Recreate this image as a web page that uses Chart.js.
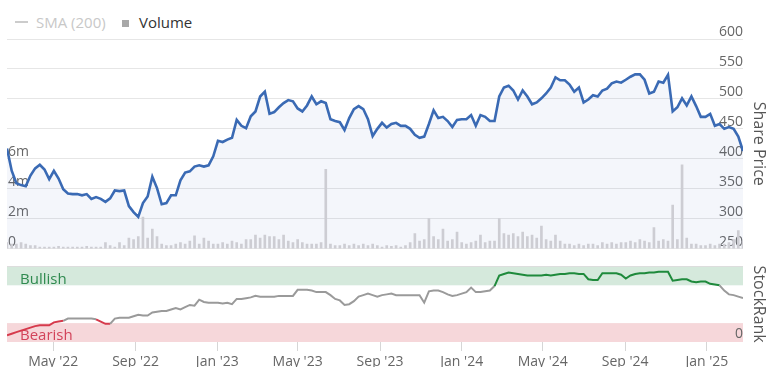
<!DOCTYPE html>
<html><head><meta charset="utf-8">
<script src="https://cdn.jsdelivr.net/npm/chart.js@4.4.1/dist/chart.umd.min.js"></script>
<style>
html,body{margin:0;padding:0;background:#fff;}
#wrap{position:relative;width:773px;height:367px;overflow:hidden;font-family:'Open Sans',sans-serif;}
canvas{position:absolute;left:0;}
#c1{top:0;}
#c2{top:258px;}
.lg{position:absolute;top:12px;font-size:15px;line-height:20px;white-space:nowrap;}
.sym{position:absolute;}
</style></head><body>
<div id="wrap">
  <span class="sym" style="left:15px;top:21px;width:13px;height:2px;background:#cccccc"></span>
  <div class="lg" style="left:36px;color:#c8c8c8">SMA (200)</div>
  <span class="sym" style="left:122px;top:20px;width:7px;height:7px;background:#a8a8a8"></span>
  <div class="lg" style="left:139px;color:#333333">Volume</div>
  <canvas id="c1" width="773" height="258"></canvas>
  <canvas id="c2" width="773" height="109"></canvas>
</div>
<script>
// ---- data (weekly samples, first week starting 2022-02-21) ----
const weekStart = '2022-02-21';
const price = [
 417,380,359,356,354,372,384,390,382,366,
 380,367,349,342,341,341,339,341,333,336,
 333,328,334,347,346,347,321,311,303,326,
 337,370,351,324,326,339,339,364,377,379,
 387,389,387,389,404,430,428,432,435,465,
 455,451,471,479,504,512,475,478,486,493,
 498,496,484,479,489,504,491,496,493,466,
 463,461,448,468,483,488,483,466,438,450,
 460,452,458,460,455,455,450,440,435,437,
 458,481,468,470,463,453,465,466,466,473,
 455,473,470,463,463,504,519,522,514,499,
 514,504,491,494,501,509,519,536,531,531,
 524,512,519,494,499,506,504,514,517,526,
 529,527,532,537,541,541,532,509,512,529,
 527,540,479,486,501,489,504,488,470,470,
 475,455,458,450,453,450,437,413
];
const volumeM = [
 0.4,0.3,0.3,0.4,0.3,0.2,0.2,0.1,0.1,0.1,
 0.1,0.15,0.1,0.1,0.1,0.1,0.1,0.15,0.1,0.1,
 0.1,0.4,0.2,0.1,0.4,0.2,0.7,0.6,0.8,2.1,
 0.7,1.3,0.8,0.3,0.2,0.2,0.3,0.4,0.3,0.5,
 0.85,0.3,0.7,0.5,0.3,0.3,0.4,0.3,0.5,0.4,
 0.3,0.6,0.6,0.9,0.7,0.9,0.8,0.8,0.6,0.9,
 0.5,0.4,0.6,0.4,0.3,0.3,0.3,0.4,5.3,0.3,
 0.2,0.2,0.3,0.2,0.3,0.2,0.3,0.2,0.3,0.2,
 0.1,0.2,0.15,0.2,0.1,0.2,0.4,1.0,0.5,0.6,
 2.0,0.8,0.6,1.3,0.5,0.6,1.1,0.4,0.3,0.4,
 0.5,0.9,0.4,0.5,0.5,2.0,1.0,0.9,1.0,0.8,
 1.1,0.8,0.9,0.7,1.5,0.6,0.5,0.9,0.5,0.3,
 0.3,0.2,0.3,0.2,0.3,0.3,0.2,0.4,0.3,0.4,
 0.3,0.4,0.4,0.5,0.4,0.6,0.5,0.4,1.4,0.5,
 0.6,0.5,2.9,0.6,5.6,0.7,0.3,0.3,0.2,0.2,
 0.3,0.2,0.3,0.3,0.4,0.6,1.2,0.5
];
const stockRank = [
 9,11,13,15,17,19,21,22,22,22,
 26,27,28,31,31,31,31,31,31,30,
 27,24,24,31,32,32,32,34,36,35,
 35,39,40,41,41,43,45,43,46,49,
 48,56,53,52,52,52,51,52,50,57,
 57,58,59,61,60,60,60,60,61,61,
 61,61,69,69,69,68,66,66,66,62,
 57,55,49,50,54,60,62,64,62,60,
 62,63,64,62,62,62,62,62,62,52,
 67,68,68,66,63,61,62,64,66,72,
 66,66,67,68,74,88,90,92,91,90,
 89,88,88,88,88,89,88,89,90,90,
 91,91,90,90,83,82,82,91,91,91,
 91,89,84,88,90,91,91,92,92,93,
 93,93,81,82,83,83,80,79,80,80,
 77,76,75,68,63,62,60,58
];
const xTickDates = ['2022-05-01','2022-09-01','2023-01-01','2023-05-01','2023-09-01','2024-01-01','2024-05-01','2024-09-01','2025-01-01'];
const xTickLabels = ["May '22","Sep '22","Jan '23","May '23","Sep '23","Jan '24","May '24","Sep '24","Jan '25"];
const priceTicks = [250,300,350,400,450,500,550,600];
const volumeTicks = [0,2,4,6];
const volumeTickLabels = ['0','2m','4m','6m'];
const rankTicks = [0,100];
const rankBands = [{from:75,to:100,label:'Bullish'},{from:0,to:25,label:'Bearish'}];
const bearishBelow = 30, bullishFrom = 75;

// ---- helpers ----
const DAY = 86400000;
const t0 = Date.parse(weekStart + 'T00:00:00Z');
const dayOf = s => (Date.parse(s + 'T00:00:00Z') - t0) / DAY;
const xMax = (price.length - 1) * 7;
const FONT = "'Open Sans', sans-serif";
Chart.defaults.font.family = FONT;

const bandStyle = [
  {fill:'#d5e9dc', text:'#2f8a4f'},
  {fill:'#f6d7da', text:'#d2435a'}
];
const lineColours = {bear:'#d63a4c', bull:'#1f8a3c', mid:'#9a9a9a'};

const bandsPlugin = {
  id:'bands',
  beforeDraw(chart){
    const {ctx, chartArea:{left,right}} = chart;
    const s = chart.scales.yR;
    ctx.save();
    rankBands.forEach((b,k)=>{
      const yTop = s.getPixelForValue(b.to), yBot = s.getPixelForValue(b.from);
      ctx.fillStyle = bandStyle[k].fill;
      ctx.fillRect(left, yTop, right-left, yBot-yTop);
      ctx.fillStyle = bandStyle[k].text;
      ctx.font = "15px " + FONT;
      ctx.textBaseline = 'middle';
      ctx.textAlign = 'left';
      ctx.fillText(b.label, left + 13, yTop + 13);
    });
    ctx.restore();
  }
};

new Chart(document.getElementById('c1'), {
  type:'line',
  data:{datasets:[
    {type:'line', label:'Share Price', data: price.map((v,i)=>({x:i*7,y:v})), yAxisID:'yP',
     borderColor:'#3a6ab4', borderWidth:2.6, pointRadius:0, tension:0,
     fill:'start', backgroundColor:'rgba(70,100,190,0.06)', order:0},
    {type:'bar', label:'Volume', data: volumeM.map((v,i)=>({x:i*7,y:v})), yAxisID:'yV',
     backgroundColor:'#cdcdd3', barThickness:2, order:1}
  ]},
  options:{
    responsive:false, animation:false, devicePixelRatio:1,
    layout:{padding:{top:39,bottom:7,left:0,right:0}},
    plugins:{legend:{display:false}, tooltip:{enabled:false}, filler:{drawTime:'beforeDatasetsDraw'}},
    scales:{
      x:{type:'linear', min:0, max:xMax, offset:false, display:false},
      yP:{position:'right', min:250, max:600,
          afterBuildTicks:s=>{s.ticks = priceTicks.map(v=>({value:v}));},
          afterFit:s=>{s.width = 30;},
          ticks:{mirror:true, padding:0, labelOffset:-7, color:'#666', font:{size:14}},
          grid:{color:'#e6e6e6', drawTicks:false},
          border:{display:false},
          title:{display:true, text:'Share Price', color:'#555', font:{size:16}, padding:{top:5,bottom:0}}},
      yV:{position:'left', min:0, max:14,
          afterBuildTicks:s=>{s.ticks = volumeTicks.map(v=>({value:v}));},
          afterFit:s=>{s.width = 7;},
          ticks:{mirror:true, padding:1, labelOffset:-7, color:'#666', font:{size:14},
                 callback:(v,i)=>volumeTickLabels[i]},
          grid:{display:false}, border:{display:false}}
    }
  }
});

new Chart(document.getElementById('c2'), {
  type:'line',
  data:{datasets:[
    {label:'StockRank', data: stockRank.map((v,i)=>({x:i*7,y:v})), yAxisID:'yR',
     borderWidth:2, pointRadius:0, tension:0, borderColor:lineColours.mid,
     segment:{borderColor:c=>{const v=c.p1.parsed.y; return v<bearishBelow?lineColours.bear:(v>=bullishFrom?lineColours.bull:lineColours.mid);}}}
  ]},
  options:{
    responsive:false, animation:false, devicePixelRatio:1,
    layout:{padding:{top:7,bottom:0,left:7,right:0}},
    plugins:{legend:{display:false}, tooltip:{enabled:false}},
    scales:{
      x:{type:'linear', min:0, max:xMax, offset:false,
         afterBuildTicks:s=>{s.ticks = xTickDates.map(d=>({value:dayOf(d)}));},
         afterFit:s=>{s.height = 25;},
         ticks:{autoSkip:false, maxRotation:0, padding:3, color:'#666', font:{size:14},
                callback:(v,i)=>xTickLabels[i]},
         grid:{drawOnChartArea:false, drawTicks:true, tickLength:9, color:'#d6d6d6'},
         border:{display:false}},
      yR:{position:'right', min:0, max:100,
          afterBuildTicks:s=>{s.ticks = rankTicks.map(v=>({value:v}));},
          afterFit:s=>{s.width = 30;},
          ticks:{mirror:true, padding:0, labelOffset:-8, color:'#666', font:{size:14},
                 callback:v=> v===0 ? '0' : ''},
          grid:{drawTicks:false, color:c=> (c.tick && c.tick.value===100) ? '#dddddd' : 'rgba(0,0,0,0)'},
          border:{display:false},
          title:{display:true, text:'StockRank', color:'#555', font:{size:16}, padding:{top:5,bottom:0}}}
    }
  },
  plugins:[bandsPlugin]
});
</script>
</body></html>
